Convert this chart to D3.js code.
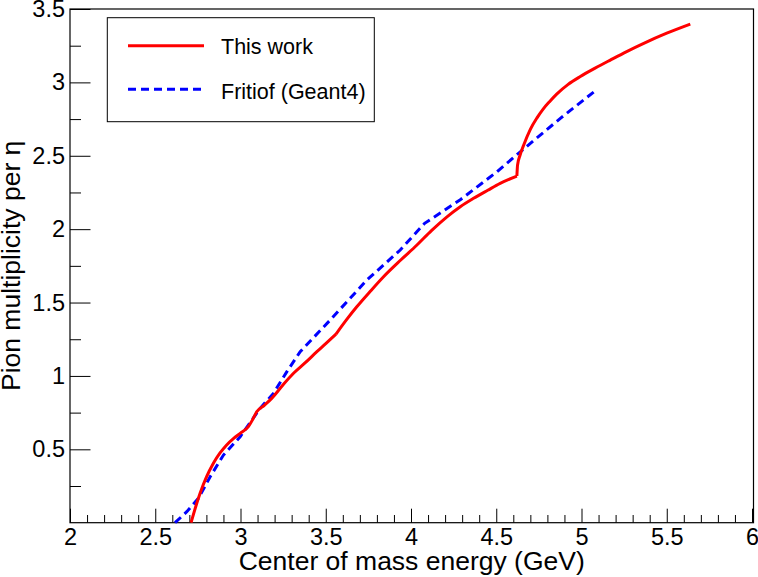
<!DOCTYPE html>
<html>
<head>
<meta charset="utf-8">
<script src="https://cdn.jsdelivr.net/npm/d3@7"></script>
<style>
  body { margin: 0; background: #fff; }
  svg text { font-family: "Liberation Sans", Arial, Helvetica, sans-serif; fill: #000; }
</style>
</head>
<body>
<div id="chart"></div>
<script>
// "This work" curve
var workX = [2.710, 2.735, 2.763, 2.800, 2.841, 2.880, 2.919, 2.960, 2.998, 3.046, 3.070, 3.095,
	3.140, 3.183, 3.250, 3.311, 3.380, 3.448, 3.500, 3.560, 3.620, 3.682, 3.760, 3.839, 3.940,
	4.035, 4.120, 4.211, 4.289, 4.367, 4.450, 4.523, 4.621, 4.625, 4.640, 4.660, 4.700, 4.739,
	4.775, 4.815, 4.856, 4.920, 4.993, 5.080, 5.169, 5.265, 5.365, 5.500, 5.638];
var workY = [0.000, 0.100, 0.200, 0.310, 0.405, 0.475, 0.530, 0.575, 0.609, 0.654, 0.700, 0.756,
	0.800, 0.847, 0.940, 1.018, 1.090, 1.165, 1.220, 1.285, 1.380, 1.471, 1.575, 1.676, 1.790,
	1.892, 1.990, 2.084, 2.153, 2.210, 2.265, 2.312, 2.362, 2.437, 2.505, 2.570, 2.680, 2.758,
	2.818, 2.872, 2.922, 2.985, 3.040, 3.097, 3.152, 3.210, 3.266, 3.335, 3.397];
// points where the curve has a sharp corner
var workKinks = [3.560, 4.621];

// Fritiof (Geant4) curve
var fritiofX = [2.616, 2.685, 2.753, 2.822, 2.900, 2.998, 3.115, 3.193, 3.272, 3.350, 3.526,
	3.741, 3.937, 4.080, 4.289, 4.504, 4.641, 4.876, 5.091];
var fritiofY = [0.000, 0.075, 0.166, 0.313, 0.461, 0.586, 0.779, 0.881, 1.029, 1.165, 1.381,
	1.653, 1.858, 2.040, 2.200, 2.391, 2.527, 2.755, 2.952];

var xTicks = [2, 2.5, 3, 3.5, 4, 4.5, 5, 5.5, 6];
var xTickLabels = ["2", "2.5", "3", "3.5", "4", "4.5", "5", "5.5", "6"];
var yTicks = [0.5, 1, 1.5, 2, 2.5, 3, 3.5];
var yTickLabels = ["0.5", "1", "1.5", "2", "2.5", "3", "3.5"];
var seriesNames = ["This work", "Fritiof (Geant4)"];

var width = 758, height = 577;
var frame = {left: 70, right: 753.5, top: 9, bottom: 522.7};

var svg = d3.select("#chart").append("svg")
	.attr("width", width)
	.attr("height", height);

var x = d3.scaleLinear().domain([2, 6]).range([frame.left, frame.right - 1.5]);
var y = d3.scaleLinear().domain([0, 3.5]).range([frame.bottom, frame.top]);

var xMinor = d3.range(20, 61).map(function(d) { return d / 10; })
	.filter(function(d) { return xTicks.indexOf(d) < 0; });
var yMinor = [0.25, 0.75, 1.25, 1.75, 2.25, 2.75, 3.25];

// minor ticks
svg.append("g")
	.attr("transform", "translate(0," + frame.bottom + ")")
	.call(d3.axisBottom(x).tickValues(xMinor).tickSize(-7.7).tickFormat(""));
svg.append("g")
	.attr("transform", "translate(" + frame.left + ",0)")
	.call(d3.axisLeft(y).tickValues(yMinor).tickSize(-11).tickFormat(""));

// major ticks + labels
svg.append("g")
	.attr("class", "xaxis")
	.attr("transform", "translate(0," + frame.bottom + ")")
	.call(d3.axisBottom(x).tickValues(xTicks).tickSize(-14).tickPadding(6)
		.tickFormat(function(d, i) { return xTickLabels[i]; }));
svg.append("g")
	.attr("class", "yaxis")
	.attr("transform", "translate(" + frame.left + ",0)")
	.call(d3.axisLeft(y).tickValues(yTicks).tickSize(-20.5).tickPadding(5)
		.tickFormat(function(d, i) { return yTickLabels[i]; }));

svg.selectAll(".domain").remove();
svg.selectAll(".tick line").attr("stroke", "#000").attr("stroke-width", 1);
svg.selectAll(".xaxis text, .yaxis text")
	.style("font-family", "'Liberation Sans', Arial, Helvetica, sans-serif")
	.style("font-size", "23.5px")
	.attr("fill", "#000");

// frame
svg.append("rect")
	.attr("x", frame.left)
	.attr("y", frame.top)
	.attr("width", frame.right - frame.left)
	.attr("height", frame.bottom - frame.top)
	.attr("fill", "none")
	.attr("stroke", "#000")
	.attr("stroke-width", 1.2);

// curves
var line = d3.line()
	.x(function(d) { return x(d[0]); })
	.y(function(d) { return y(d[1]); });
var smoothLine = d3.line()
	.x(function(d) { return x(d[0]); })
	.y(function(d) { return y(d[1]); })
	.curve(d3.curveMonotoneX);

var workData = workX.map(function(d, i) { return [d, workY[i]]; });
var fritiofData = fritiofX.map(function(d, i) { return [d, fritiofY[i]]; });

// split the red curve at its corners so the smoothing keeps them sharp
var workPieces = [], start = 0;
workKinks.forEach(function(k) {
	var idx = workX.indexOf(k);
	workPieces.push(workData.slice(start, idx + 1));
	start = idx;
});
workPieces.push(workData.slice(start));

svg.append("path")
	.datum(fritiofData)
	.attr("d", line)
	.attr("fill", "none")
	.attr("stroke", "#0000ff")
	.attr("stroke-width", 3)
	.attr("stroke-dasharray", "8,5");

svg.append("path")
	.attr("d", workPieces.map(function(p) { return smoothLine(p); }).join(""))
	.attr("fill", "none")
	.attr("stroke", "#ff0000")
	.attr("stroke-width", 3)
	.attr("stroke-linejoin", "round");

// axis titles
svg.append("text")
	.attr("x", (frame.left + frame.right) / 2)
	.attr("y", 570)
	.attr("text-anchor", "middle")
	.style("font-size", "26.5px")
	.text("Center of mass energy (GeV)");

svg.append("text")
	.attr("transform", "translate(19.5," + (frame.top + frame.bottom) / 2 + ") rotate(-90)")
	.attr("text-anchor", "middle")
	.style("font-size", "26.5px")
	.text("Pion multiplicity per η");

// legend
var legend = svg.append("g");
legend.append("rect")
	.attr("x", 107.3)
	.attr("y", 17.7)
	.attr("width", 267)
	.attr("height", 104)
	.attr("fill", "#fff")
	.attr("stroke", "#000")
	.attr("stroke-width", 1);

var legendStyles = [
	{color: "#ff0000", dash: null, ly: 45.7, ty: 54},
	{color: "#0000ff", dash: "8,5", ly: 89.3, ty: 99}
];
seriesNames.forEach(function(name, i) {
	var s = legendStyles[i];
	legend.append("line")
		.attr("x1", 128).attr("x2", 204)
		.attr("y1", s.ly).attr("y2", s.ly)
		.attr("stroke", s.color)
		.attr("stroke-width", 3)
		.attr("stroke-dasharray", s.dash);
	legend.append("text")
		.attr("x", 221)
		.attr("y", s.ty)
		.style("font-size", "21.5px")
		.text(name);
});
</script>
</body>
</html>
